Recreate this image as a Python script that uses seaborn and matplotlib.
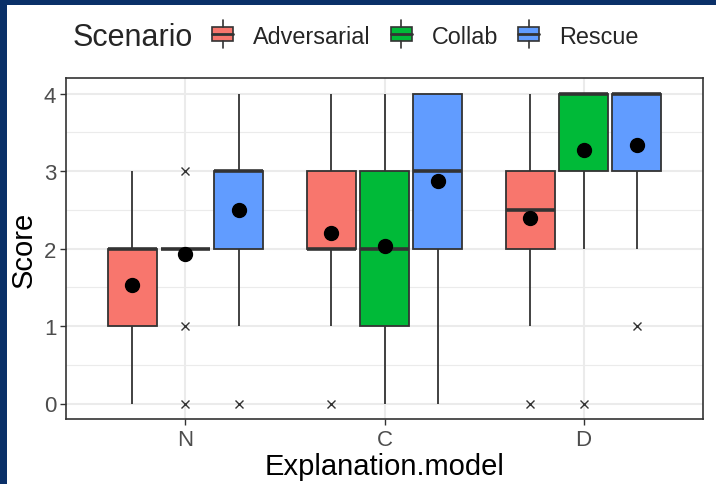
import numpy as np
import pandas as pd
import matplotlib
matplotlib.use("Agg")
import matplotlib.pyplot as plt
from matplotlib.patches import Rectangle
from matplotlib.lines import Line2D
from matplotlib.legend_handler import HandlerBase
import seaborn as sns

# number of answers per score (0..4) for each model / scenario
scores = [0, 1, 2, 3, 4]
models = ["N", "C", "D"]
scenarios = ["Adversarial", "Collab", "Rescue"]
colors = ["#F8766D", "#00BA38", "#619CFF"]

n_adversarial = [3, 10, 15, 2, 0]
n_collab = [1, 1, 27, 1, 0]
n_rescue = [1, 3, 9, 14, 3]
c_adversarial = [1, 5, 13, 9, 2]
c_collab = [4, 6, 9, 7, 4]
c_rescue = [1, 2, 8, 8, 11]
d_adversarial = [1, 5, 9, 11, 4]
d_collab = [1, 0, 5, 8, 16]
d_rescue = [0, 1, 4, 9, 16]

counts = {
    ("N", "Adversarial"): n_adversarial, ("N", "Collab"): n_collab, ("N", "Rescue"): n_rescue,
    ("C", "Adversarial"): c_adversarial, ("C", "Collab"): c_collab, ("C", "Rescue"): c_rescue,
    ("D", "Adversarial"): d_adversarial, ("D", "Collab"): d_collab, ("D", "Rescue"): d_rescue,
}

rows = []
for (m, s), cnt in counts.items():
    for v in np.repeat(scores, cnt):
        rows.append({"Explanation.model": m, "Scenario": s, "Score": v})
df = pd.DataFrame(rows)

sns.set_theme(style="white")
plt.rcParams["font.family"] = ["Liberation Sans", "DejaVu Sans"]

fig = plt.figure(figsize=(7.16, 4.85), dpi=100)
fig.patch.set_facecolor("#0a3068")
fig.patches.append(Rectangle((7 / 716, 0), 1, 1 - 6 / 485, transform=fig.transFigure,
                             facecolor="white", edgecolor="none", zorder=-5))
ax = fig.add_axes([66 / 716, 65 / 485, 637 / 716, 341 / 485])

# ggplot-like grid
for y in np.arange(-0.5, 4.6, 0.5):
    ax.axhline(y, color="#EBEBEB", lw=1.5 if y % 1 == 0 else 0.8, zorder=0)
for x in range(3):
    ax.axvline(x, color="#EBEBEB", lw=1.5, zorder=0)

sns.boxplot(data=df, x="Explanation.model", y="Score", hue="Scenario",
            order=models, hue_order=scenarios, palette=colors,
            width=0.8, gap=0.07, linecolor="#333333", linewidth=1.3,
            saturation=1, whis=1.5, showmeans=True, legend=False,
            meanprops=dict(marker="o", markerfacecolor="black",
                           markeredgecolor="black", markersize=10),
            flierprops=dict(marker="x", markersize=5.5, markeredgecolor="#333333",
                            markeredgewidth=1),
            medianprops=dict(linewidth=2.6, color="#333333"),
            capprops=dict(linewidth=0),
            ax=ax)

ax.set_xlim(-0.6, 2.6)
ax.set_ylim(-0.2, 4.2)
ax.set_yticks([0, 1, 2, 3, 4])
ax.set_xlabel("Explanation.model", fontsize=21, color="black", labelpad=2)
ax.set_ylabel("Score", fontsize=21, color="black")
ax.yaxis.set_label_coords(-0.044, 0.5)
ax.tick_params(axis="both", labelsize=16, labelcolor="#4D4D4D", color="#333333",
               length=4, width=1, pad=3, left=True, bottom=True)
for sp in ax.spines.values():
    sp.set_color("#333333")
    sp.set_linewidth(1.2)


class BoxKey(HandlerBase):
    def create_artists(self, legend, orig_handle, xdescent, ydescent,
                       width, height, fontsize, trans):
        x0 = -xdescent
        y0 = -ydescent
        cx = x0 + width / 2
        box = Rectangle((x0, y0), width, height,
                        facecolor=orig_handle.get_facecolor(), edgecolor="#333333",
                        lw=1.2, transform=trans)
        mid = Line2D([x0, x0 + width], [y0 + height / 2] * 2,
                     color="#333333", lw=2, transform=trans)
        top = Line2D([cx, cx], [y0 + height, y0 + height * 1.5],
                     color="#333333", lw=1.2, transform=trans)
        bot = Line2D([cx, cx], [y0 - height * 0.5, y0],
                     color="#333333", lw=1.2, transform=trans)
        return [box, mid, top, bot]


handles = [Rectangle((0, 0), 1, 1, facecolor=c) for c in colors]
fig.text(73 / 716, 1 - 38 / 485, "Scenario", fontsize=22, va="center", ha="left")
fig.legend(handles, scenarios, handler_map={Rectangle: BoxKey()},
           loc="center left", bbox_to_anchor=(212 / 716, 1 - 37 / 485), ncol=3,
           frameon=False, fontsize=16.8, handlelength=0.9, handleheight=0.56,
           handletextpad=0.86, columnspacing=0.86, borderaxespad=0, borderpad=0)

fig.savefig("out.png", dpi=100)
